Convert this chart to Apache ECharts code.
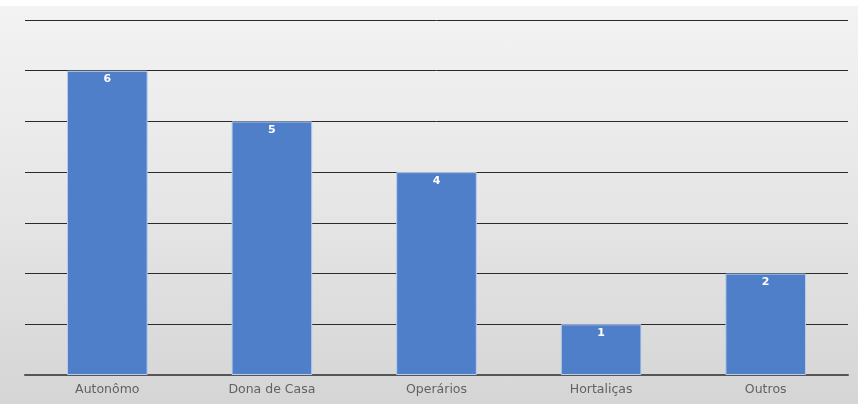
<!DOCTYPE html>
<html>
<head>
<meta charset="utf-8">
<script src="https://cdn.jsdelivr.net/npm/echarts@6/dist/echarts.min.js"></script>
<style>
  html, body { margin: 0; padding: 0; background: #ffffff; }
  .wrap { width: 858px; height: 404px; position: relative; }
  .panel {
    position: absolute; left: 0; top: 6px; width: 858px; height: 398px;
    background: linear-gradient(to bottom, #f3f3f3 0%, #e6e6e6 50%, #d5d5d5 100%);
  }
  #chart { position: absolute; left: 0; top: 0; width: 858px; height: 404px; }
</style>
</head>
<body>
<div class="wrap">
  <div class="panel"></div>
  <div id="chart"></div>
</div>
<script>
// categorias e valores
var categorias = ['Autonômo', 'Dona de Casa', 'Operários', 'Hortaliças', 'Outros'];
var valores = [6, 5, 4, 1, 2];
var eixoMax = 7;

var chart = echarts.init(document.getElementById('chart'));
chart.setOption({
  backgroundColor: 'transparent',
  animation: false,
  grid: {
    left: 25,
    right: 10,
    top: 20,
    bottom: 29,
    containLabel: false
  },
  xAxis: {
    type: 'category',
    data: categorias,
    axisTick: { show: false },
    axisLine: { lineStyle: { color: '#555555', width: 2 } },
    axisLabel: {
      color: '#626262',
      fontFamily: 'DejaVu Sans',
      fontSize: 12.5,
      margin: 8
    }
  },
  yAxis: {
    type: 'value',
    min: 0,
    max: eixoMax,
    interval: 1,
    axisLabel: { show: false },
    axisLine: { show: false },
    axisTick: { show: false },
    splitLine: { lineStyle: { color: '#2a2a2a', width: 1 } }
  },
  series: [
    {
      type: 'bar',
      data: valores,
      barWidth: '49%',
      itemStyle: {
        color: '#4f7fc8',
        borderColor: '#b9cdea',
        borderWidth: 1
      },
      label: {
        show: true,
        position: 'insideTop',
        distance: 3,
        color: '#ffffff',
        fontWeight: 'bold',
        fontFamily: 'DejaVu Sans',
        fontSize: 11
      }
    }
  ]
});
</script>
</body>
</html>
